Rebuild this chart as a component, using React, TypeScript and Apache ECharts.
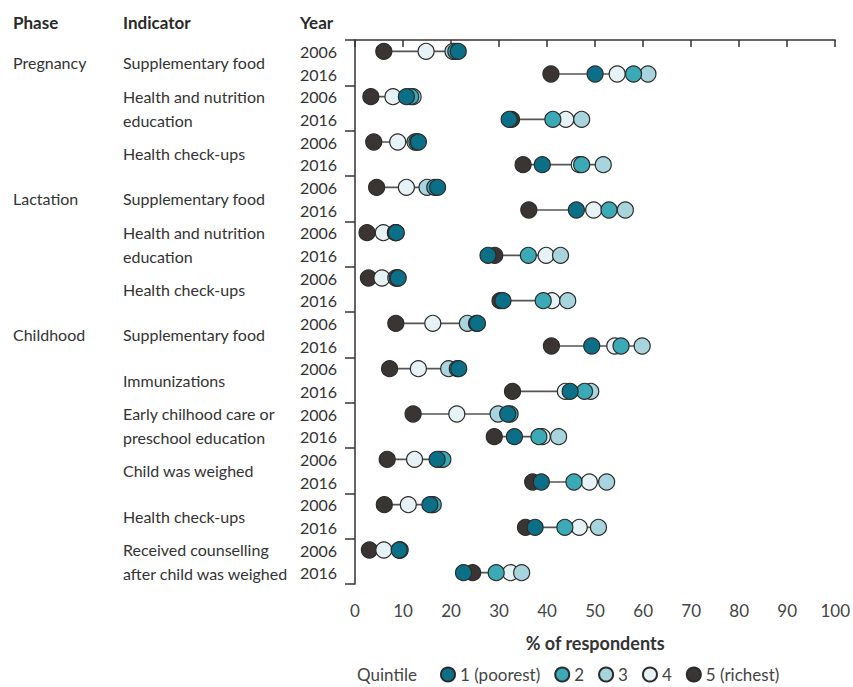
import React, { useEffect, useRef } from "react";
import * as echarts from "echarts";

// ---------- data ----------
const phases = ["Pregnancy", "", "", "Lactation", "", "", "Childhood", "", "", "", "", ""];
const indicators = [
  "Supplementary food",
  "Health and nutrition\neducation",
  "Health check-ups",
  "Supplementary food",
  "Health and nutrition\neducation",
  "Health check-ups",
  "Supplementary food",
  "Immunizations",
  "Early chilhood care or\npreschool education",
  "Child was weighed",
  "Health check-ups",
  "Received counselling\nafter child was weighed",
];
const years = ["2006", "2016"];
const rowLabels = indicators.flatMap(() => years);

const quintileNames = ["1 (poorest)", "2", "3", "4", "5 (richest)"];
const quintileColors = ["#0b6f88", "#3ba9b6", "#a8d5dd", "#e6f2f5", "#3a3532"];

const q1 = [21.5, 50.0, 10.7, 32.1, 13.2, 39.0, 17.2, 46.1, 8.6, 27.7, 9.0, 30.8, 25.5, 49.3, 21.6, 44.8, 31.8, 33.2, 17.1, 38.8, 15.6, 37.5, 9.2, 22.6];
const q2 = [21.0, 58.0, 11.6, 41.2, 12.9, 47.2, 16.6, 52.9, 8.5, 36.1, 8.8, 39.2, 25.3, 55.4, 21.3, 47.8, 32.3, 38.3, 18.3, 45.6, 16.3, 43.7, 9.4, 29.4];
const q3 = [20.4, 61.0, 12.1, 47.2, 12.5, 51.7, 15.0, 56.3, 8.4, 42.8, 8.5, 44.3, 23.4, 59.8, 19.5, 49.1, 29.8, 42.4, 17.6, 52.4, 16.0, 50.7, 9.3, 34.7];
const q4 = [14.8, 54.6, 7.9, 43.9, 8.9, 46.7, 10.7, 49.7, 5.9, 39.8, 5.6, 41.0, 16.2, 54.1, 13.2, 43.8, 21.2, 39.0, 12.4, 48.8, 11.1, 46.7, 6.0, 32.4];
const q5 = [6.0, 40.8, 3.3, 32.6, 3.9, 35.0, 4.5, 36.2, 2.5, 29.1, 2.8, 30.2, 8.5, 40.9, 7.2, 32.8, 12.1, 29.0, 6.7, 37.0, 6.1, 35.5, 3.0, 24.5];
const quintiles = [q1, q2, q3, q4, q5];

const FONT = "Lato, 'Open Sans', sans-serif";

export default function App() {
  const ref = useRef<HTMLDivElement>(null);
  useEffect(() => {
    if (!ref.current) return;
    const chart = echarts.init(ref.current, undefined, { renderer: "svg" });
    const nRows = rowLabels.length;
    const ranges = rowLabels.map((_, i) => {
      const vals = quintiles.map((q) => q[i]);
      return [Math.min(...vals), Math.max(...vals), i + 0.5];
    });

    const dotSeries = [4, 3, 2, 1, 0].map((k) => ({
      type: "scatter",
      name: quintileNames[k],
      xAxisIndex: 0,
      yAxisIndex: 0,
      symbol: "circle",
      symbolSize: 16,
      silent: true,
      itemStyle: { color: quintileColors[k], borderColor: "#2b2b2b", borderWidth: 1.2, opacity: 1 },
      data: quintiles[k].map((v, i) => [v, i + 0.5]),
      z: 3,
    }));

    chart.setOption({
      animation: false,
      textStyle: { fontFamily: FONT },
      grid: { left: 355, right: 15, top: 40, bottom: 103 },
      xAxis: {
        type: "value",
        min: 0,
        max: 100,
        interval: 10,
        axisLine: { show: true, lineStyle: { color: "#333", width: 1.5 } },
        axisTick: { show: true, length: 7, lineStyle: { color: "#333", width: 1.5 } },
        axisLabel: { fontSize: 17, color: "#444", margin: 18, fontFamily: FONT },
        splitLine: { show: false },
        name: "% of respondents",
        nameLocation: "middle",
        nameGap: 50,
        nameTextStyle: { fontSize: 18, fontWeight: "bold", color: "#333", fontFamily: FONT },
      },
      yAxis: [
        {
          type: "value",
          min: 0,
          max: nRows,
          interval: 2,
          inverse: true,
          axisLine: { show: true, lineStyle: { color: "#333", width: 1.5 } },
          axisTick: { show: true, length: 10, lineStyle: { color: "#333", width: 1.5 } },
          axisLabel: { show: false },
          splitLine: { show: false },
        },
        {
          type: "category",
          data: rowLabels,
          inverse: true,
          position: "left",
          axisLine: { show: false },
          axisTick: { show: false },
          axisLabel: { fontSize: 16, color: "#333", margin: 18, interval: 0, fontFamily: FONT },
        },
        {
          type: "category",
          data: indicators,
          inverse: true,
          position: "left",
          axisLine: { show: false },
          axisTick: { show: false },
          axisLabel: { fontSize: 16, color: "#333", margin: 232, align: "left", lineHeight: 24, interval: 0, fontFamily: FONT },
        },
        {
          type: "category",
          data: phases,
          inverse: true,
          position: "left",
          axisLine: { show: false },
          axisTick: { show: false },
          axisLabel: { fontSize: 16, color: "#333", margin: 342, align: "left", interval: 0, fontFamily: FONT },
        },
      ],
      legend: {
        data: quintileNames,
        left: 435,
        top: 661,
        icon: "circle",
        itemWidth: 14,
        itemHeight: 14,
        itemGap: 14,
        textStyle: { fontSize: 17, color: "#444", fontFamily: FONT },
        selectedMode: false,
      },
      graphic: [
        { type: "text", left: 13, top: 14, style: { text: "Phase", fontSize: 17, fontWeight: "bold", fill: "#2a2a2a", fontFamily: FONT } },
        { type: "text", left: 123, top: 14, style: { text: "Indicator", fontSize: 17, fontWeight: "bold", fill: "#2a2a2a", fontFamily: FONT } },
        { type: "text", left: 300, top: 14, style: { text: "Year", fontSize: 17, fontWeight: "bold", fill: "#2a2a2a", fontFamily: FONT } },
        { type: "text", left: 357, top: 666, style: { text: "Quintile", fontSize: 17, fill: "#444", fontFamily: FONT } },
      ],
      series: [
        {
          type: "custom",
          xAxisIndex: 0,
          yAxisIndex: 0,
          silent: true,
          z: 1,
          data: ranges,
          renderItem: (params: any, api: any) => {
            const a = api.coord([api.value(0), api.value(2)]);
            const b = api.coord([api.value(1), api.value(2)]);
            return {
              type: "line",
              shape: { x1: a[0], y1: a[1], x2: b[0], y2: b[1] },
              style: { stroke: "#555", lineWidth: 1.6 },
            };
          },
        },
        ...dotSeries,
      ],
    });
    return () => chart.dispose();
  }, []);
  return <div ref={ref} style={{ position: "absolute", left: 0, top: 0, width: 853, height: 687 }} />;
}
